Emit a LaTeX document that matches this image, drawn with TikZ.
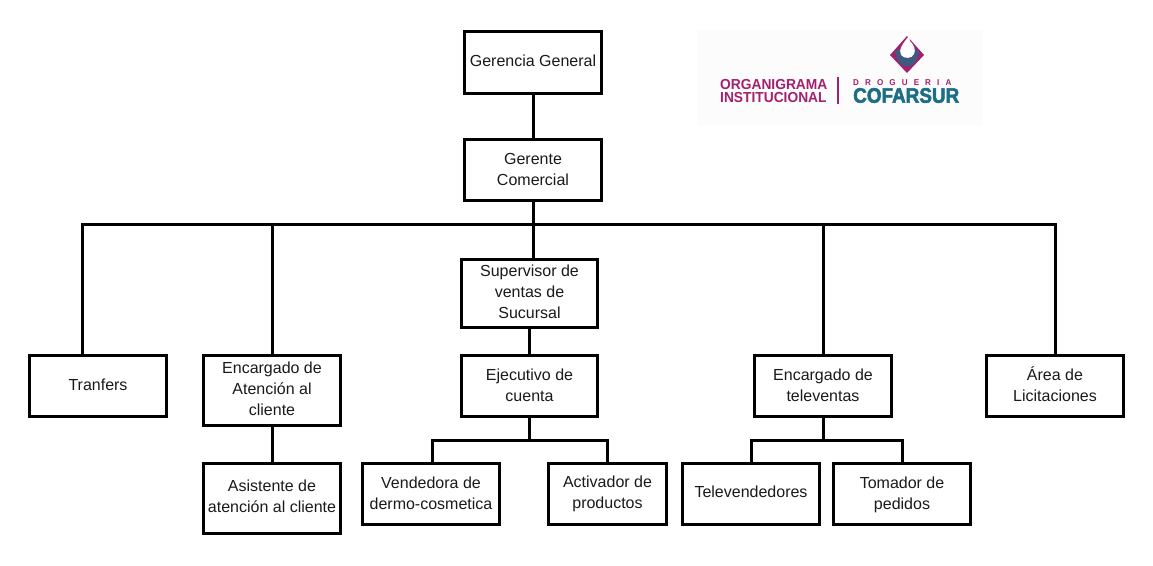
\documentclass[tikz,border=0pt]{standalone}
\usepackage{fontspec}
\setmainfont{Liberation Sans}
\newfontfamily\logofont[FakeBold=2.5,FakeStretch=0.9]{Liberation Sans Bold}
\newfontfamily\orgfont[FakeStretch=0.95]{Liberation Sans Bold}
\definecolor{logopurple}{HTML}{A3206F}
\definecolor{logoteal}{HTML}{1B6E85}
\definecolor{txt}{HTML}{1A1A1A}
\tikzset{
  box/.style={draw=black,line width=3pt,fill=white,text=txt,inner sep=0pt,
    font=\fontsize{16}{21}\selectfont},
  link/.style={draw=black,line width=3pt},
  logotxt/.style={inner sep=0pt,anchor=west}
}
\newcommand{\boxat}[7]{% name, x1,y1,x2,y2,text, lift of the text
  \node[box,minimum width=#4pt-#2pt-1pt,minimum height=#5pt-#3pt-1pt] (#1) at ({(#2+#4)/2},{(#3+#5)/2})
   {\raisebox{#7pt}[\height][\depth]{\begin{tabular}{@{}c@{}}#6\end{tabular}}};}
\begin{document}
\begin{tikzpicture}[x=1pt,y=-1pt]
\useasboundingbox[fill=white] (0,0) rectangle (1153,565);
% logo
\fill[white!98!gray] (697,30) rectangle (983,125);
\fill[logopurple] (907,36) -- (924,55) -- (907,73) -- (890,55) -- cycle;
\fill[logoteal!75!logopurple] (895,50) .. controls (897,72) and (917,72) .. (919,50) -- (914,50) .. controls (913,56) and (901,56) .. (900,50) -- cycle;
\fill[white] (909,36) .. controls (903,43) and (898,50) .. (901,55) .. controls (904,59) and (912,59) .. (914,54) .. controls (916,50) and (914,45) .. (910,41) -- cycle;
\node[logotxt,text=logopurple,font=\orgfont\fontsize{14.5}{13}\selectfont,align=left] (lg1) at (720,91) {ORGANIGRAMA\\[-0.5pt]INSTITUCIONAL};
\fill[logopurple] (837,77) rectangle (839,104);
\node[logotxt,text=logopurple,font=\orgfont\fontsize{8.5}{9}\selectfont] (lg2) at (853,83) {D\hspace{6.1pt}R\hspace{6.1pt}O\hspace{6.1pt}G\hspace{6.1pt}U\hspace{6.1pt}E\hspace{6.1pt}R\hspace{6.1pt}I\hspace{6.1pt}A};
\node[logotxt,text=logoteal,font=\logofont\fontsize{21}{21}\selectfont] (lg3) at (853,95.5) {COFARSUR};
% boxes
\boxat{gg}{464}{31}{602}{94}{Gerencia General}{0}
\boxat{gc}{464}{139}{602}{201}{Gerente\\Comercial}{-1}
\boxat{sv}{461}{259}{598}{328}{Supervisor de\\ventas de\\Sucursal}{0}
\boxat{ej}{461}{355}{598}{417}{Ejecutivo de\\cuenta}{-1}
\boxat{tr}{29}{355}{167}{417}{Tranfers}{0}
\boxat{ea}{203}{355}{341}{426}{Encargado de\\Atención al\\cliente}{0.5}
\boxat{as}{203}{463}{341}{534}{Asistente de\\atención al cliente}{1}
\boxat{vd}{362}{463}{500}{525}{Vendedora de\\dermo-cosmetica}{-1}
\boxat{ac}{548}{463}{667}{525}{Activador de\\productos}{0}
\boxat{et}{754}{355}{892}{417}{Encargado de\\televentas}{-1}
\boxat{tv}{682}{463}{820}{525}{Televendedores}{1}
\boxat{tm}{833}{463}{971}{525}{Tomador de\\pedidos}{-1}
\boxat{li}{986}{355}{1124}{417}{Área de\\Licitaciones}{-1}
% connectors
\coordinate (bus) at (533,224);
\coordinate (trx) at (82.5,355);
\draw[link] (gg.south) -- (gc.north);
\draw[link] (gc.south) -- (bus);
\draw[link] (bus) -- (sv.north -| bus);
\draw[link] (sv.south -| ej) -- (ej.north);
\draw[link] (trx) |- (bus);
\draw[link] (ea.north) |- (bus);
\draw[link] (et.north) |- (bus);
\draw[link] (li.north) |- (bus);
\draw[link] (ea.south) -- (as.north);
\coordinate (b2) at (529,440);
\draw[link] (ej.south -| b2) -- (b2);
\draw[link] ([xshift=1pt]vd.north) |- (b2);
\draw[link] (ac.north) |- (b2);
\coordinate (b3) at (823,440);
\draw[link] (et.south) -- (b3);
\draw[link] (tv.north) |- (b3);
\draw[link] (tm.north) |- (b3);
\end{tikzpicture}
\end{document}
